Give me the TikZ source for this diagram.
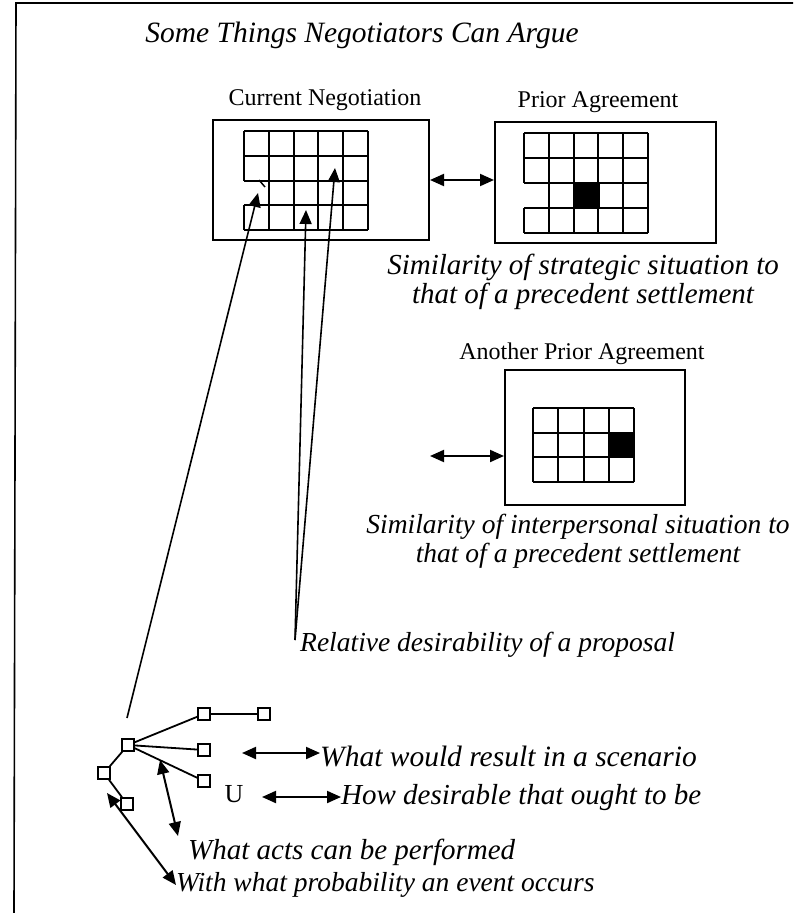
\documentclass[tikz,border=0pt]{standalone}
\usepackage{fontspec}
\setmainfont{Liberation Serif}
\usetikzlibrary{arrows.meta}
\begin{document}
\begin{tikzpicture}[x=1pt,y=-1pt,
  frameline/.style={line width=1.6pt},
  boxstyle/.style={draw,line width=2pt,inner sep=0pt,minimum width=#1},
  gridline/.style={line width=2pt},
  tnode/.style={draw,line width=1.6pt,inner sep=0pt,minimum size=12pt,fill=white},
  tedge/.style={line width=1.8pt},
  dbl/.style={line width=2pt,{Triangle[length=14pt,width=12pt]}-{Triangle[length=14pt,width=12pt]}},
  sgl/.style={line width=1.6pt,-{Triangle[length=14pt,width=12pt]}},
  titlefont/.style={font=\fontsize{29.5}{33}\selectfont\itshape},
  capfont/.style={font=\fontsize{#1}{28.5}\selectfont\itshape,align=center,inner sep=0pt},
  capfont/.default=29,
  labfont/.style={font=\fontsize{24}{26}\selectfont,inner sep=0pt},
  ]
\useasboundingbox (0,0) rectangle (793,913);
% frame
\draw[frameline] (14,913) -- (16,3) -- (793,3);
% title
\node[titlefont,anchor=center] (title) at (362,35) {Some Things Negotiators Can Argue};

% Current negotiation
\node[labfont] (curlab) at (325,100) {Current Negotiation};
\node[boxstyle=216pt,minimum height=120pt] (cur) at (321,180) {};
\foreach \i in {0,...,4} \draw[gridline] (244,{131+\i*24.75}) -- (368,{131+\i*24.75});
\foreach \i in {1,...,5} \draw[gridline] ({244+\i*24.8},131) -- ({244+\i*24.8},230);
\draw[gridline] (244,131) -- (244,180.5);
\draw[gridline] (244,205.25) -- (244,230);
\draw[line width=1.5pt] (259,180) -- (265,187);
\coordinate (curA) at (258,193);
\coordinate (curB) at (306,210);
\coordinate (curC) at (335,168);

% Prior agreement
\node[labfont] (priorlab) at (598,102) {Prior Agreement};
\node[boxstyle=221pt,minimum height=121pt] (prior) at (605.5,182.5) {};
\fill (575,183) rectangle (599.8,207.5);
\foreach \i in {0,...,4} \draw[gridline] (524,{133+\i*25}) -- (648,{133+\i*25});
\foreach \i in {1,...,5} \draw[gridline] ({524+\i*24.8},133) -- ({524+\i*24.8},233);
\draw[gridline] (524,133) -- (524,183);
\draw[gridline] (524,208) -- (524,233);
\draw[dbl] (cur.east) -- (cur.east -| prior.west);

\node[capfont=29] (cap1) at (583,282) {Similarity of strategic situation to\\that of a precedent settlement};

% Another prior agreement
\node[labfont] (anlab) at (582,354) {Another Prior Agreement};
\node[boxstyle=180pt,minimum height=135pt] (an) at (595,437.5) {};
\fill (609,432.7) rectangle (634,457.4);
\foreach \i in {0,...,3} \draw[gridline] (533,{408+\i*24.7}) -- (634,{408+\i*24.7});
\foreach \i in {0,...,4} \draw[gridline] ({533+\i*25.25},408) -- ({533+\i*25.25},482);
\coordinate (anfree) at (430,456);
\draw[dbl] (anfree) -- (anfree -| an.west);

\node[capfont=27.5] (cap2) at (578,541) {Similarity of interpersonal situation to\\that of a precedent settlement};

% relative desirability
\node[capfont=27.5,anchor=west] (rel) at (300,645) {Relative desirability of a proposal};
\coordinate (relpt) at (295,640);
\draw[sgl] (relpt) -- (curB);
\draw[sgl] (relpt) -- (curC);

% tree
\node[tnode] (tA) at (104,773) {};
\node[tnode] (tB) at (128,745) {};
\node[tnode] (tC) at (127,804) {};
\node[tnode] (tD) at (204,714) {};
\node[tnode] (tE) at (264,714) {};
\node[tnode] (tF) at (204,750) {};
\node[tnode] (tG) at (204,781) {};
\draw[tedge] (tA) -- (tB);
\draw[tedge] (tA) -- (tC);
\draw[tedge] (tB) -- (tD);
\draw[tedge] (tB) -- (tF);
\draw[tedge] (tB) -- (tG);
\draw[tedge] (tD) -- (tE);
\node[font=\fontsize{26}{28}\selectfont,inner sep=0pt] (U) at (234,794) {U};

\coordinate (treetop) at (127,718);
\draw[sgl] (treetop) -- (curA);

\node[capfont=29.5,anchor=west] (scen) at (320,756) {What would result in a scenario};
\node[capfont=29,anchor=west] (howd) at (341,798) {How desirable that ought to be};
\node[capfont=29,anchor=west] (acts) at (188,852) {What acts can be performed};
\node[capfont=27.5,anchor=west] (prob) at (176,885) {With what probability an event occurs};

\coordinate (sc1) at (242,753);
\draw[dbl] (sc1) -- (scen.west |- sc1);
\coordinate (hd1) at (262,797);
\draw[dbl] (hd1) -- (howd.west |- hd1);
\coordinate (ac1) at (160,760);
\coordinate (ac2) at (178,836);
\draw[dbl] (ac1) -- (ac2);
\coordinate (pr1) at (107,793);
\draw[dbl] (pr1) -- (prob.west);
\end{tikzpicture}
\end{document}
